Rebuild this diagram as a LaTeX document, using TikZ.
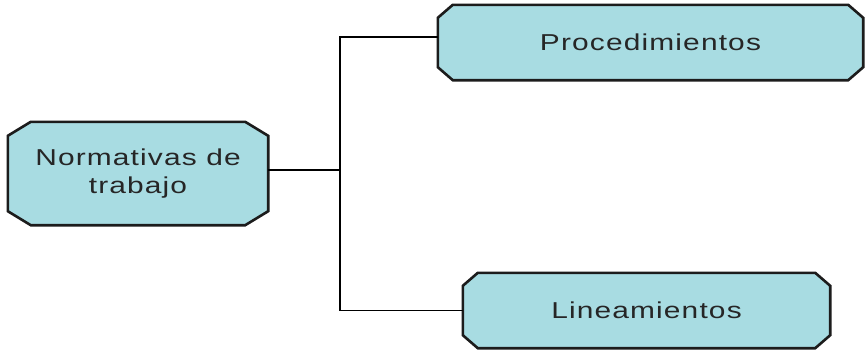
\documentclass[tikz,border=0pt]{standalone}
\usepackage{fontspec}
\setmainfont{Liberation Sans}[FakeStretch=1.3,LetterSpace=5]
\usetikzlibrary{backgrounds}
\definecolor{boxfill}{RGB}{168,220,226}
\definecolor{boxedge}{RGB}{28,28,28}
\tikzset{
  box/.style={rectangle, inner sep=0pt, align=center,
    font=\fontsize{23}{28}\selectfont, text=black!85},
  boxline/.style={draw=boxedge, line width=2.6pt, fill=boxfill, line join=miter},
  wire/.style={draw=black, line width=1.4pt}
}
% octagonal box drawn around a named node: name, horizontal cut, vertical cut
\newcommand\chamferbox[3]{%
  \path[boxline]
    ([xshift=#2]#1.north west) -- ([xshift=-#2]#1.north east)
    -- ([yshift=-#3]#1.north east) -- ([yshift=#3]#1.south east)
    -- ([xshift=-#2]#1.south east) -- ([xshift=#2]#1.south west)
    -- ([yshift=#3]#1.south west) -- ([yshift=-#3]#1.north west) -- cycle;}
\begin{document}
\begin{tikzpicture}[x=1pt,y=-1pt]
  \useasboundingbox (0,0) rectangle (865,349);

  \node[box, minimum width=260pt, minimum height=103pt] (norm) at (138,173.5)
    {Normativas de\\trabajo};
  \node[box, minimum width=425pt, minimum height=75pt] (proc) at (650.5,42.5)
    {Procedimientos};
  \node[box, minimum width=367pt, minimum height=75pt] (lin) at (646.5,310.5)
    {Lineamientos};

  \begin{pgfonlayer}{background}
    \fill[white] (0,0) rectangle (865,349);
    \chamferbox{norm}{23pt}{14pt}
    \chamferbox{proc}{15pt}{13pt}
    \chamferbox{lin}{15pt}{13pt}
  \end{pgfonlayer}

  \coordinate (bus) at (340,170);
  \draw[wire] ([yshift=3.5pt]norm.east) -- (bus);
  \draw[wire] ([yshift=5.5pt]proc.west) -| (bus) |- (lin.west);
\end{tikzpicture}
\end{document}
